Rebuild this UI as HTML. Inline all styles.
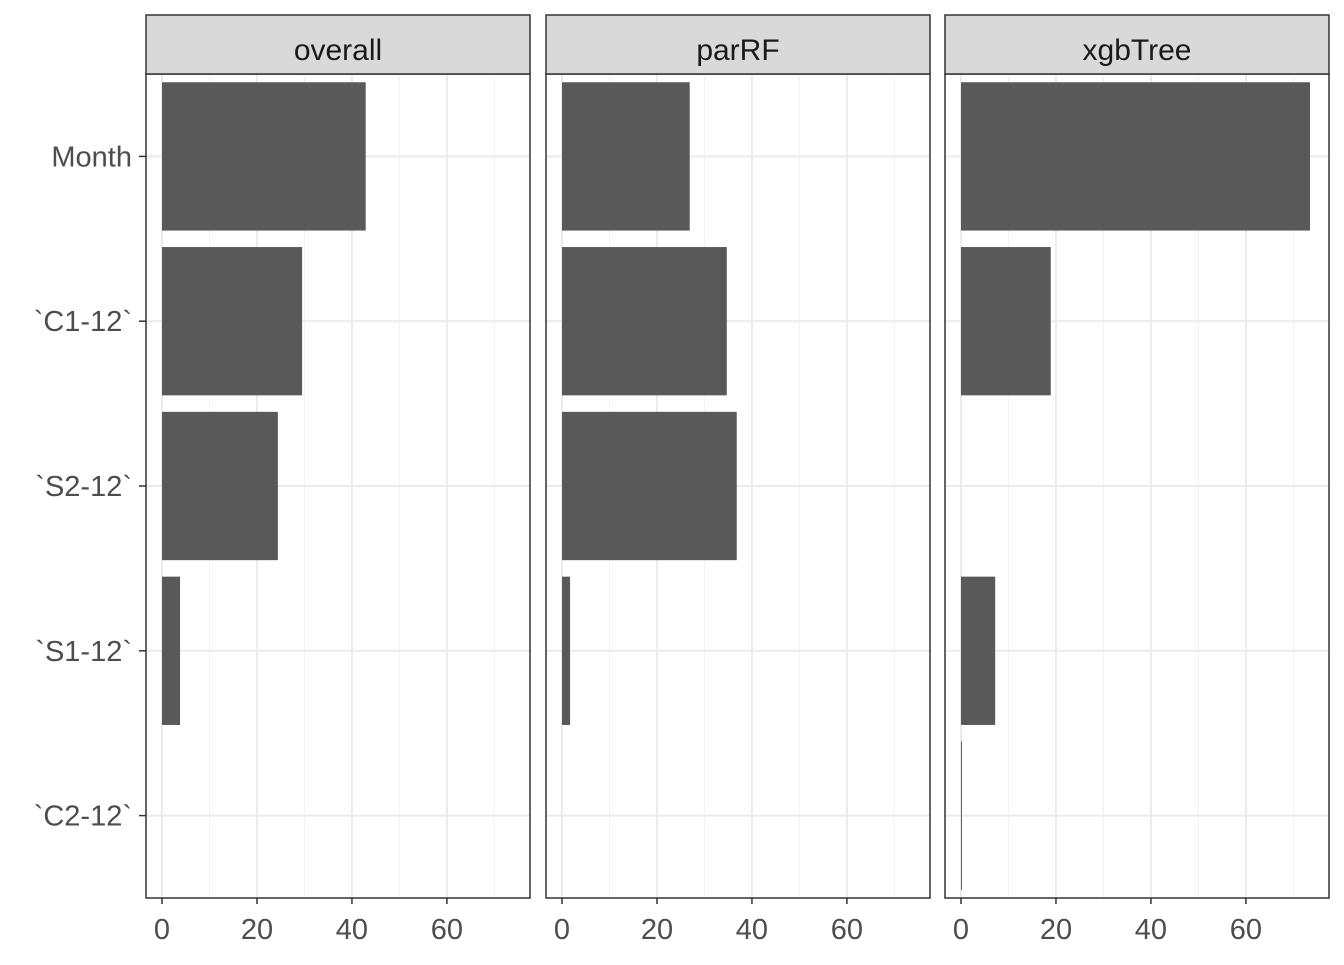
<!DOCTYPE html>
<html><head><meta charset="utf-8"><style>
body{margin:0;background:#fff;width:1344px;height:960px;overflow:hidden}
text{font-family:"Liberation Sans",Arial,sans-serif}
</style></head><body>
<svg id="chart" width="1344" height="960" xmlns="http://www.w3.org/2000/svg"></svg>
<script>
const categories = ["Month","`C1-12`","`S2-12`","`S1-12`","`C2-12`"];
const panels = ["overall","parRF","xgbTree"];
const overallValues = [42.9, 29.5, 24.4, 3.8, 0];
const parRFValues = [26.9, 34.7, 36.8, 1.7, 0];
const xgbTreeValues = [73.5, 18.9, 0, 7.2, 0.2];
const xTicks = [0,20,40,60];
const xMinor = [10,30,50,70];
const seriesValues = [overallValues, parRFValues, xgbTreeValues];

const NS="http://www.w3.org/2000/svg";
const svg=document.getElementById('chart');
function mk(tag,attrs,parent){const e=document.createElementNS(NS,tag);for(const k in attrs)e.setAttribute(k,attrs[k]);(parent||svg).appendChild(e);return e;}
const panelLefts=[146,546,945], panelW=384, plotTop=74, plotBottom=898, stripTop=15;
const xMin=-3.37, xMax=77.5;
const bandStep=(plotBottom-plotTop)/categories.length;
function yCenter(i){return plotTop+bandStep*(i+0.5);}

panels.forEach((p,pi)=>{
  const L=panelLefts[pi];
  const g=mk('g',{});
  
  
  const x=v=>L+(v-xMin)/(xMax-xMin)*panelW;
  mk('rect',{x:L,y:plotTop,width:panelW,height:plotBottom-plotTop,fill:'#fff'},g);
  xMinor.forEach(v=>{const l=mk('line',{x1:x(v),x2:x(v),y1:plotTop,y2:plotBottom,stroke:'#f2f2f2','stroke-width':1},g);});
  xTicks.forEach(v=>{const l=mk('line',{x1:x(v),x2:x(v),y1:plotTop,y2:plotBottom,stroke:'#ebebeb','stroke-width':2},g);});
  categories.forEach((c,i)=>{const l=mk('line',{x1:L,x2:L+panelW,y1:yCenter(i),y2:yCenter(i),stroke:'#ebebeb','stroke-width':2},g);});
  seriesValues[pi].forEach((v,i)=>{
    const h=bandStep*0.9;
    const w=Math.max(x(v)-x(0),0);
    const r=mk('rect',{x:x(0),y:yCenter(i)-h/2,width:w,height:h,fill:'#595959'},g);
    
    
  });
  mk('rect',{x:L,y:plotTop,width:panelW,height:plotBottom-plotTop,fill:'none',stroke:'#333','stroke-width':1.5},g);
  const s=mk('rect',{x:L,y:stripTop,width:panelW,height:plotTop-stripTop,fill:'#d9d9d9',stroke:'#333','stroke-width':1.5},g);
  
  
  const st=mk('text',{x:L+panelW/2,y:60,'text-anchor':'middle','font-size':'30',fill:'#1a1a1a'},g);
  st.textContent=p;
  
  
  xTicks.forEach(v=>{
    mk('line',{x1:x(v),x2:x(v),y1:plotBottom,y2:plotBottom+6,stroke:'#333','stroke-width':1.5},g);
    const t=mk('text',{x:x(v),y:939,'text-anchor':'middle','font-size':'29',fill:'#4d4d4d'},g);
    t.textContent=v;
    
    
  });
});
categories.forEach((c,i)=>{
  mk('line',{x1:139,x2:146,y1:yCenter(i),y2:yCenter(i),stroke:'#333','stroke-width':1.5});
  const t=mk('text',{x:132,y:yCenter(i)+10,'text-anchor':'end','font-size':'29',fill:'#4d4d4d'});
  t.textContent=c;
  
  
});
</script>
</body></html>
